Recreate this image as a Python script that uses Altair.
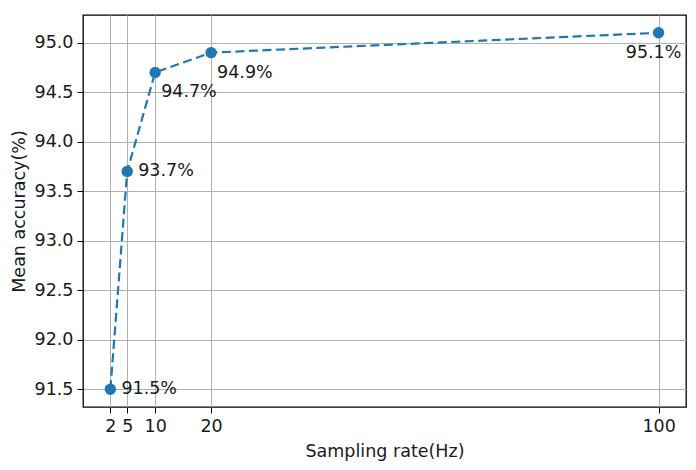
import altair as alt
import pandas as pd

rates = [2, 5, 10, 20, 100]
accuracy = [91.5, 93.7, 94.7, 94.9, 95.1]
labels = ["91.5%", "93.7%", "94.7%", "94.9%", "95.1%"]
x_ticks = [2, 5, 10, 20, 100]
y_ticks = [91.5, 92.0, 92.5, 93.0, 93.5, 94.0, 94.5, 95.0]

df = pd.DataFrame({"rate": rates, "acc": accuracy, "label": labels, "i": range(len(rates))})

FONT = "DejaVu Sans"
BLUE = "#1f77b4"
FS = 17.5

x = alt.X("rate:Q", scale=alt.Scale(domain=[-2.9, 104.9], nice=False, zero=False),
          axis=alt.Axis(values=x_ticks, title="Sampling rate(Hz)", format="d"))
y = alt.Y("acc:Q", scale=alt.Scale(domain=[91.32, 95.28], nice=False, zero=False),
          axis=alt.Axis(values=y_ticks, title="Mean accuracy(%)", format=".1f"))

base = alt.Chart(df).encode(x=x, y=y)

line = base.mark_line(color=BLUE, strokeWidth=2.2, strokeDash=[9, 4.5])
pts = base.mark_circle(color=BLUE, size=130, opacity=1)

txt_right = base.transform_filter("datum.i <= 1").mark_text(
    align="left", baseline="middle", dx=11, dy=0, fontSize=FS, font=FONT, color="#1a1a1a"
).encode(text="label:N")
txt_below = base.transform_filter("datum.i == 2 || datum.i == 3").mark_text(
    align="left", baseline="middle", dx=6, dy=20, fontSize=FS, font=FONT, color="#1a1a1a"
).encode(text="label:N")
txt_last = base.transform_filter("datum.i == 4").mark_text(
    align="center", baseline="middle", dx=-5, dy=20, fontSize=FS, font=FONT, color="#1a1a1a"
).encode(text="label:N")

chart = alt.layer(line, pts, txt_right, txt_below, txt_last).properties(
    width=603, height=392,
    autosize=alt.AutoSizeParams(type="none"),
    padding={"left": 75, "top": 7, "right": 2, "bottom": 60},
).configure_view(stroke="black", strokeWidth=1.3).configure_axis(
    grid=True, gridColor="#b0b0b0", gridWidth=1, gridOpacity=1,
    domain=False, tickColor="black", tickSize=6, tickWidth=1,
    labelFont=FONT, labelFontSize=FS, labelColor="#1a1a1a", labelPadding=4,
    titleFont=FONT, titleFontSize=FS, titleFontWeight="normal", titleColor="#1a1a1a",
).configure_axisY(titlePadding=6).configure_axisX(titlePadding=8)

chart.save("out.html", embed_options={"renderer": "svg", "actions": False})
